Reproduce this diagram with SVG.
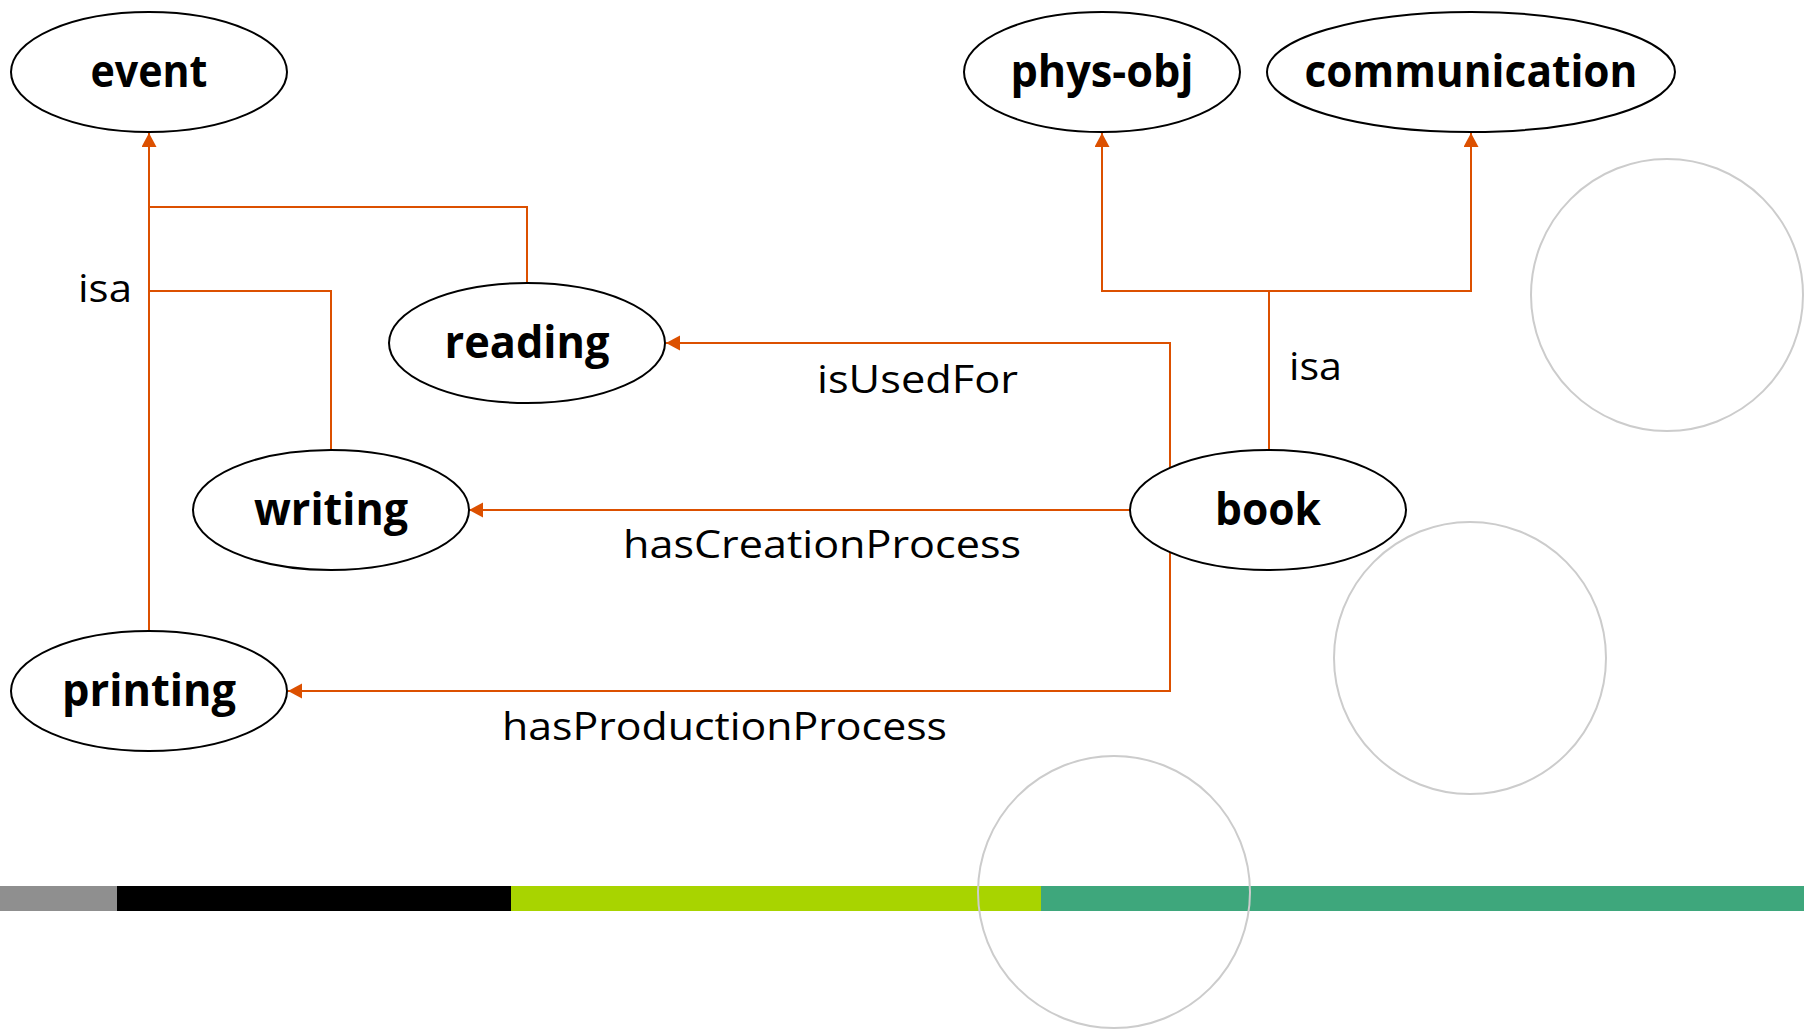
<svg xmlns="http://www.w3.org/2000/svg" width="1812" height="1029" viewBox="0 0 1812 1029">
<style>
.node ellipse{fill:#fff;stroke:#000;stroke-width:2}
.node text{font-family:"Open Sans","Noto Sans",sans-serif;font-weight:700;font-size:44px;fill:#000;text-anchor:middle}
.lbl{font-family:"Open Sans","Noto Sans",sans-serif;font-size:38px;fill:#000}
.edge{fill:none;stroke:#DC5000;stroke-width:2}
.deco{fill:none;stroke:#CCCCCC;stroke-width:2}
</style>
<defs>
<marker id="arr" markerUnits="userSpaceOnUse" markerWidth="16" markerHeight="16" refX="14" refY="7.5" orient="auto">
<path d="M0,0 L14,7.5 L0,15 z" fill="#DC5000"/>
</marker>
</defs>
<rect x="0" y="0" width="1812" height="1029" fill="#fff"/>
<g id="bar">
<rect x="0" y="886" width="117" height="25" fill="#8F8F8F"/>
<rect x="117" y="886" width="394" height="25" fill="#000"/>
<rect x="511" y="886" width="530" height="25" fill="#A8D400"/>
<rect x="1041" y="886" width="763" height="25" fill="#3EA77C"/>
</g>
<g id="decor">
<circle class="deco" cx="1667" cy="295" r="136"/>
<circle class="deco" cx="1470" cy="658" r="136"/>
<circle class="deco" cx="1114" cy="892" r="136"/>
</g>
<g id="connectors">
<path class="edge" d="M149,631 L149,133" marker-end="url(#arr)"/>
<path class="edge" d="M527,283 L527,207 L149,207"/>
<path class="edge" d="M331,450 L331,291 L149,291"/>
<path class="edge" d="M1269,450 L1269,291"/>
<path class="edge" d="M1269,291 L1102,291 L1102,133" marker-end="url(#arr)"/>
<path class="edge" d="M1269,291 L1471,291 L1471,133" marker-end="url(#arr)"/>
<path class="edge" d="M1170,468 L1170,343 L666,343" marker-end="url(#arr)"/>
<path class="edge" d="M1130,510 L469,510" marker-end="url(#arr)"/>
<path class="edge" d="M1170,552 L1170,691 L288,691" marker-end="url(#arr)"/>
<text class="lbl" x="78" y="302" textLength="54" lengthAdjust="spacingAndGlyphs">isa</text>
<text class="lbl" x="1289" y="380" textLength="53" lengthAdjust="spacingAndGlyphs">isa</text>
<text class="lbl" x="817" y="393" textLength="201" lengthAdjust="spacingAndGlyphs">isUsedFor</text>
<text class="lbl" x="623" y="558" textLength="398" lengthAdjust="spacingAndGlyphs">hasCreationProcess</text>
<text class="lbl" x="502" y="740" textLength="445" lengthAdjust="spacingAndGlyphs">hasProductionProcess</text>
</g>
<g id="event" class="node"><ellipse cx="149" cy="72" rx="138" ry="60"/><text x="149" y="87" textLength="117" lengthAdjust="spacingAndGlyphs">event</text></g>
<g id="phys-obj" class="node"><ellipse cx="1102" cy="72" rx="138" ry="60"/><text x="1102" y="87" textLength="183" lengthAdjust="spacingAndGlyphs">phys-obj</text></g>
<g id="communication" class="node"><ellipse cx="1471" cy="72" rx="204" ry="60"/><text x="1471" y="87" textLength="333" lengthAdjust="spacingAndGlyphs">communication</text></g>
<g id="reading" class="node"><ellipse cx="527" cy="343" rx="138" ry="60"/><text x="527" y="358" textLength="165" lengthAdjust="spacingAndGlyphs">reading</text></g>
<g id="writing" class="node"><ellipse cx="331" cy="510" rx="138" ry="60"/><text x="331" y="525" textLength="154" lengthAdjust="spacingAndGlyphs">writing</text></g>
<g id="book" class="node"><ellipse cx="1268" cy="510" rx="138" ry="60"/><text x="1268" y="525" textLength="106" lengthAdjust="spacingAndGlyphs">book</text></g>
<g id="printing" class="node"><ellipse cx="149" cy="691" rx="138" ry="60"/><text x="149" y="706" textLength="174" lengthAdjust="spacingAndGlyphs">printing</text></g>
</svg>
